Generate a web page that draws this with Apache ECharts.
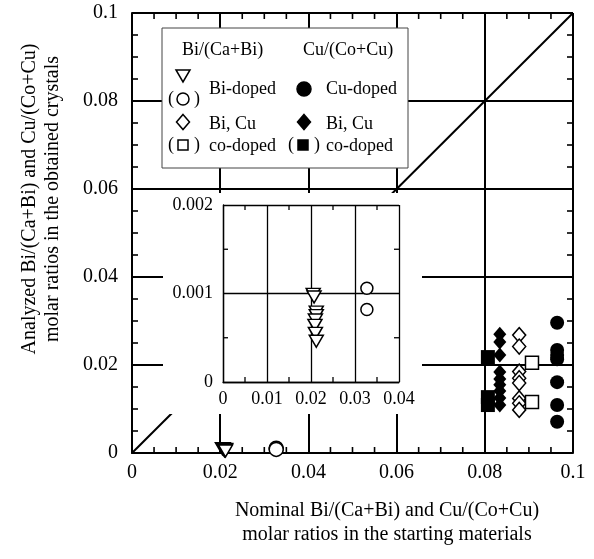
<!DOCTYPE html>
<html>
<head>
<meta charset="utf-8">
<script src="https://cdn.jsdelivr.net/npm/echarts@6/dist/echarts.min.js"></script>
<style>html,body{margin:0;padding:0;background:#fff}#c{width:594px;height:559px}</style>
</head>
<body>
<div id="c"></div>
<script>
// ---- tick labels ----
const mainTickLabels = ['0', '0.02', '0.04', '0.06', '0.08', '0.1'];
const insetXTickLabels = ['0', '0.01', '0.02', '0.03', '0.04'];
const insetYTickLabels = ['0', '0.001', '0.002'];
// small (minor) tick values
const mainMinorTicks = [0.005, 0.01, 0.015, 0.025, 0.03, 0.035, 0.045, 0.05, 0.055,
                        0.065, 0.07, 0.075, 0.085, 0.09, 0.095];
const insetXMinorTicks = [0.005, 0.015, 0.025, 0.035];
const insetYMinorTicks = [0.0005, 0.0015];

// ---- data: Bi/(Ca+Bi) of Bi-doped crystals (triangles, circles) ----
const biTriX = [0.0205, 0.0207, 0.0212, 0.0212, 0.0210, 0.0209, 0.0210, 0.0212];
const biTriY = [0.00099, 0.00096, 0.00079, 0.00075, 0.00070, 0.00064, 0.00055, 0.00046];
const biCircX = [0.0327, 0.0327];
const biCircY = [0.00106, 0.00082];

// ---- Cu/(Co+Cu) of Cu-doped crystals (filled circles) ----
const cuDopedX = [0.0964, 0.0964, 0.0964, 0.0964, 0.0964, 0.0964, 0.0964];
const cuDopedY = [0.0296, 0.0234, 0.0223, 0.0213, 0.0161, 0.0109, 0.0071];

// ---- Bi, Cu co-doped: Bi (open diamonds, open squares) ----
const coBiDiaX = [0.0878, 0.0878, 0.0878, 0.0878, 0.0878, 0.0878, 0.0878, 0.0878];
const coBiDiaY = [0.0268, 0.0242, 0.0185, 0.0170, 0.0159, 0.0124, 0.0113, 0.0098];
const coBiSqX = [0.0907, 0.0907];
const coBiSqY = [0.0205, 0.0116];

// ---- Bi, Cu co-doped: Cu (filled diamonds, filled squares) ----
const coCuDiaX = [0.0834, 0.0834, 0.0834, 0.0834, 0.0834, 0.0834, 0.0834, 0.0834, 0.0834];
const coCuDiaY = [0.0270, 0.0252, 0.0223, 0.0184, 0.0168, 0.0155, 0.0141, 0.0125, 0.0109];
const coCuSqX = [0.0807, 0.0807, 0.0807];
const coCuSqY = [0.0218, 0.0127, 0.0109];

// ---- diagonal y = x ----
const diagX = [0, 0.1];
const diagY = [0, 0.1];

const zip = (xs, ys) => xs.map((x, i) => [x, ys[i]]);
const FONT = '"Liberation Serif", "Times New Roman", serif';

const mainLabel = (v) => mainTickLabels[Math.round(v / 0.02)];
const insXLabel = (v) => insetXTickLabels[Math.round(v / 0.01)];
const insYLabel = (v) => insetYTickLabels[Math.round(v / 0.001)];

function labelAxis(gi, isX, max, interval, fs, margin, fmt, lw, z) {
  return {
    type: 'value', gridIndex: gi, position: isX ? 'bottom' : 'left',
    min: 0, max: max, interval: interval,
    axisLine: { show: true, onZero: false, lineStyle: { color: '#000', width: lw } },
    axisTick: { show: false },
    splitLine: { show: true, lineStyle: { color: '#000', width: lw } },
    axisLabel: { show: true, color: '#000', fontSize: fs, fontFamily: FONT, margin: margin, formatter: fmt },
    z: z
  };
}

const openStyle = { color: '#fff', borderColor: '#000', borderWidth: 1.5, opacity: 1 };
const fillStyle = { color: '#000', borderColor: '#000', borderWidth: 0, opacity: 1 };

function sc(name, xi, yi, data, symbol, size, style, z, rot) {
  return {
    name: name, type: 'scatter', xAxisIndex: xi, yAxisIndex: yi,
    data: data, symbol: symbol, symbolSize: size, symbolRotate: rot || 0,
    itemStyle: style, z: z, clip: false, silent: true, animation: false
  };
}

// legend drawing helpers (layout only)
const T = (text, x, y, size, align) => ({
  type: 'text', z: 21, x: x, y: y,
  style: { text: text, x: 0, y: 0, fill: '#000', font: (size || 18) + 'px ' + FONT,
           textAlign: align || 'left', textVerticalAlign: 'middle' }
});
const triDown = (cx, cy) => ({ type: 'polygon', z: 21,
  shape: { points: [[cx - 7, cy - 6], [cx + 7, cy - 6], [cx, cy + 6]] },
  style: { fill: '#fff', stroke: '#000', lineWidth: 1.5 } });
const circ = (cx, cy, r, filled) => ({ type: 'circle', z: 21,
  shape: { cx: cx, cy: cy, r: r },
  style: { fill: filled ? '#000' : '#fff', stroke: '#000', lineWidth: 1.5 } });
const dia = (cx, cy, filled) => ({ type: 'polygon', z: 21,
  shape: { points: [[cx, cy - 7.5], [cx + 6.5, cy], [cx, cy + 7.5], [cx - 6.5, cy]] },
  style: { fill: filled ? '#000' : '#fff', stroke: '#000', lineWidth: 1.5 } });
const sq = (cx, cy, s, filled) => ({ type: 'rect', z: 21,
  shape: { x: cx - s / 2, y: cy - s / 2, width: s, height: s },
  style: { fill: filled ? '#000' : '#fff', stroke: '#000', lineWidth: 1.5 } });

const baseGraphic = [
  // white panel behind the inset (covers main gridlines)
  { type: 'rect', z: 10, shape: { x: 163, y: 193, width: 259, height: 221 },
    style: { fill: '#fff', stroke: null } },
  // legend box
  { type: 'rect', z: 20, shape: { x: 162, y: 28, width: 246, height: 140 },
    style: { fill: '#fff', stroke: '#444', lineWidth: 1 } },
  T('Bi/(Ca+Bi)', 182, 50),
  T('Cu/(Co+Cu)', 303, 50),
  triDown(183, 76),
  T('(', 168, 99), circ(183, 99, 6, false), T(')', 194, 99),
  T('Bi-doped', 209, 89),
  circ(304, 89, 7, true),
  T('Cu-doped', 326, 89),
  dia(183, 122, false),
  T('(', 168, 145), sq(183, 145, 10, false), T(')', 194, 145),
  T('Bi, Cu', 209, 124),
  T('co-doped', 209, 146),
  dia(304, 122, true),
  T('(', 288, 145), sq(303, 145, 10, true), T(')', 314, 145),
  T('Bi, Cu', 326, 124),
  T('co-doped', 326, 146),
  // axis titles
  { type: 'text', z: 21, x: 41, y: 199, rotation: Math.PI / 2,
    style: { text: 'Analyzed Bi/(Ca+Bi) and Cu/(Co+Cu)\nmolar ratios in the obtained crystals',
             x: 0, y: 0, fill: '#000', font: '20px ' + FONT, lineHeight: 23,
             textAlign: 'center', textVerticalAlign: 'middle' } },
  { type: 'text', z: 21, x: 387, y: 523,
    style: { text: 'Nominal Bi/(Ca+Bi) and Cu/(Co+Cu)\nmolar ratios in the starting materials',
             x: 0, y: 0, fill: '#000', font: '20px ' + FONT, lineHeight: 24,
             textAlign: 'center', textVerticalAlign: 'middle' } }
];

const chart = echarts.init(document.getElementById('c'), null, { renderer: 'canvas' });
chart.setOption({
  animation: false,
  backgroundColor: '#fff',
  grid: [
    { left: 132, top: 13, width: 441, height: 440, show: false },
    { left: 223, top: 205, width: 176, height: 177, show: false }
  ],
  xAxis: [
    labelAxis(0, true, 0.1, 0.02, 20, 10, mainLabel, 2, 0),
    labelAxis(1, true, 0.04, 0.01, 18, 8, insXLabel, 1.3, 11)
  ],
  yAxis: [
    labelAxis(0, false, 0.1, 0.02, 20, 14, mainLabel, 2, 0),
    labelAxis(1, false, 0.002, 0.001, 18, 10, insYLabel, 1.3, 11)
  ],
  series: [
    { type: 'line', xAxisIndex: 0, yAxisIndex: 0, data: zip(diagX, diagY), showSymbol: false,
      lineStyle: { color: '#000', width: 2 }, z: 1, silent: true, animation: false },
    sc('Bi-doped', 0, 0, zip(biTriX, biTriY), 'triangle', [14, 12], openStyle, 3, 180),
    sc('Bi-doped (o)', 0, 0, zip(biCircX, biCircY), 'circle', 14, openStyle, 3),
    sc('Cu-doped', 0, 0, zip(cuDopedX, cuDopedY), 'circle', 14, fillStyle, 3),
    sc('Bi co-doped', 0, 0, zip(coBiDiaX, coBiDiaY), 'diamond', [13, 15], openStyle, 3),
    sc('Bi co-doped (sq)', 0, 0, zip(coBiSqX, coBiSqY), 'rect', 13, openStyle, 4),
    sc('Cu co-doped', 0, 0, zip(coCuDiaX, coCuDiaY), 'diamond', [13, 15], fillStyle, 3),
    sc('Cu co-doped (sq)', 0, 0, zip(coCuSqX, coCuSqY), 'rect', 14, fillStyle, 3),
    sc('Bi-doped inset', 1, 1, zip(biTriX, biTriY), 'triangle', [14, 12], openStyle, 12, 180),
    sc('Bi-doped inset (o)', 1, 1, zip(biCircX, biCircY), 'circle', 12, openStyle, 12)
  ],
  graphic: baseGraphic
});

// inward small ticks on all four sides, placed through the axes' own scales
function ticksFor(gridIndex, xTicks, yTicks, xMax, yMax, len, lw, z) {
  const out = [];
  const P = (x, y) => chart.convertToPixel({ gridIndex: gridIndex }, [x, y]);
  const ln = (x1, y1, x2, y2) => ({ type: 'line', z: z, silent: true,
    shape: { x1: x1, y1: y1, x2: x2, y2: y2 }, style: { stroke: '#000', lineWidth: lw } });
  xTicks.forEach(v => {
    const b = P(v, 0), t = P(v, yMax);
    out.push(ln(b[0], b[1], b[0], b[1] - len));
    out.push(ln(t[0], t[1], t[0], t[1] + len));
  });
  yTicks.forEach(v => {
    const l = P(0, v), r = P(xMax, v);
    out.push(ln(l[0], l[1], l[0] + len, l[1]));
    out.push(ln(r[0], r[1], r[0] - len, r[1]));
  });
  return out;
}
const tickGraphic = ticksFor(0, mainMinorTicks, mainMinorTicks, 0.1, 0.1, 6, 1.6, 2)
  .concat(ticksFor(1, insetXMinorTicks, insetYMinorTicks, 0.04, 0.002, 5, 1.3, 12));
chart.setOption({ graphic: baseGraphic.concat(tickGraphic) });
</script>
</body>
</html>
